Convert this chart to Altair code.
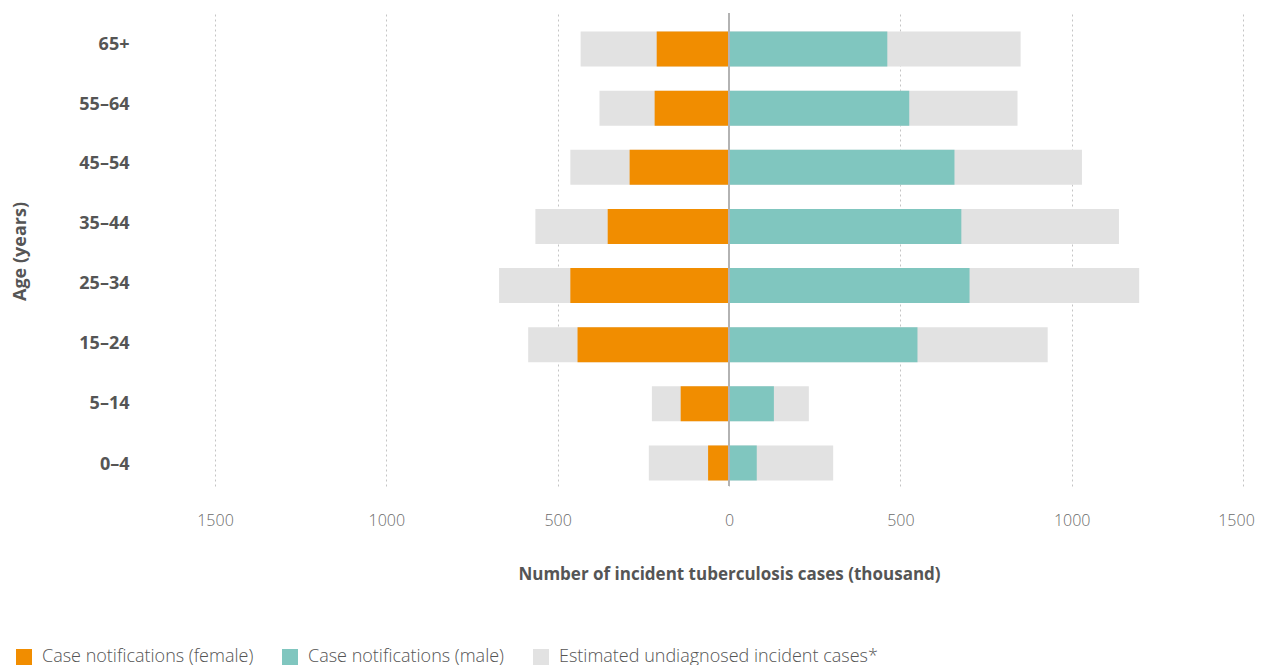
import altair as alt
import pandas as pd

ages = ["65+", "55–64", "45–54", "35–44", "25–34", "15–24", "5–14", "0–4"]
female_notified = [211, 217, 290, 354, 463, 442, 141, 61]
female_total = [433, 378, 463, 565, 671, 586, 225, 234]
male_notified = [462, 526, 658, 678, 702, 550, 131, 81]
male_total = [851, 842, 1030, 1138, 1197, 930, 233, 304]

cat_f = "Case notifications (female)"
cat_m = "Case notifications (male)"
cat_u = "Estimated undiagnosed incident cases*"
categories = [cat_f, cat_m, cat_u]
colors = ["#F18D00", "#80C6BF", "#E2E2E2"]
x_ticks = [-1500, -1000, -500, 0, 500, 1000, 1500]

grey_rows = []
notif_rows = []
for i, a in enumerate(ages):
    grey_rows.append({"age": a, "cat": cat_u, "x": -female_total[i], "x2": male_total[i]})
    notif_rows.append({"age": a, "cat": cat_f, "x": -female_notified[i], "x2": 0})
    notif_rows.append({"age": a, "cat": cat_m, "x": 0, "x2": male_notified[i]})

grey_df = pd.DataFrame(grey_rows)
notif_df = pd.DataFrame(notif_rows)

FONT = "Open Sans"
TXT = "#555555"

label_shift = [-4, -3, -3, -2, -2, -1, 0, 2]
offset_cond = {
    "condition": [
        {"test": "datum.value === '%s'" % a, "value": s}
        for a, s in zip(ages, label_shift)
    ],
    "value": 0,
}
x_offset_cond = {
    "condition": {"test": "datum.value >= 1500", "value": -7},
    "value": 0,
}

x_enc = alt.X(
    "x:Q",
    scale=alt.Scale(domain=[-1500, 1500], nice=False, zero=False),
    axis=alt.Axis(
        values=x_ticks,
        labelExpr="'' + abs(datum.value)",
        labelFlush=False,
        labelOffset=x_offset_cond,
        title="Number of incident tuberculosis cases (thousand)",
        titleFontSize=17,
        titleFontWeight="bold",
        titleColor=TXT,
        titlePadding=38,
        labelFontSize=16,
        labelColor="#6a6a6a",
        labelFontWeight=300,
        labelPadding=26,
        ticks=False,
        domain=False,
        grid=True,
        gridDash=[2, 3],
        gridColor="#c4c4c4",
        gridWidth=1,
    ),
)
y_enc = alt.Y(
    "age:N",
    sort=ages,
    scale=alt.Scale(paddingInner=0.408, paddingOuter=0.203, align=0.77),
    axis=alt.Axis(
        title="Age (years)",
        titleFontSize=18,
        titleFontWeight="bold",
        titleColor=TXT,
        titleX=-195,
        titleY=238,
        titleAngle=-90,
        titleAlign="center",
        titleBaseline="middle",
        labelFontSize=18,
        labelFontWeight="bold",
        labelColor=TXT,
        labelPadding=86,
        labelOffset=offset_cond,
        ticks=False,
        domain=False,
        grid=False,
    ),
)
color_enc = alt.Color(
    "cat:N",
    scale=alt.Scale(domain=categories, range=colors),
    legend=alt.Legend(
        title=None,
        orient="none",
        direction="horizontal",
        legendX=-200,
        legendY=635,
        symbolType="square",
        symbolSize=256,
        symbolStrokeWidth=0,
        symbolOpacity=1,
        labelFontSize=18,
        labelFontWeight=300,
        labelColor=TXT,
        labelOffset=9,
        columnPadding=27,
        labelLimit=450,
    ),
)

grey = alt.Chart(grey_df).mark_bar().encode(y=y_enc, x=x_enc, x2="x2:Q", color=color_enc)
notif = alt.Chart(notif_df).mark_bar().encode(y=y_enc, x=x_enc, x2="x2:Q", color=color_enc)
zero = alt.Chart(pd.DataFrame({"z": [0]})).mark_rule(color="#b3b3b3", strokeWidth=2).encode(x="z:Q")

chart = (
    alt.layer(grey, notif, zero)
    .properties(
        width=1028,
        height=473,
        autosize=alt.AutoSizeParams(type="none"),
        padding={"left": 207, "top": 5, "right": 12, "bottom": 200},
    )
    .configure(font=FONT)
    .configure_view(stroke=None)
)

chart.save("out.html", embed_options={"renderer": "svg", "actions": False})
